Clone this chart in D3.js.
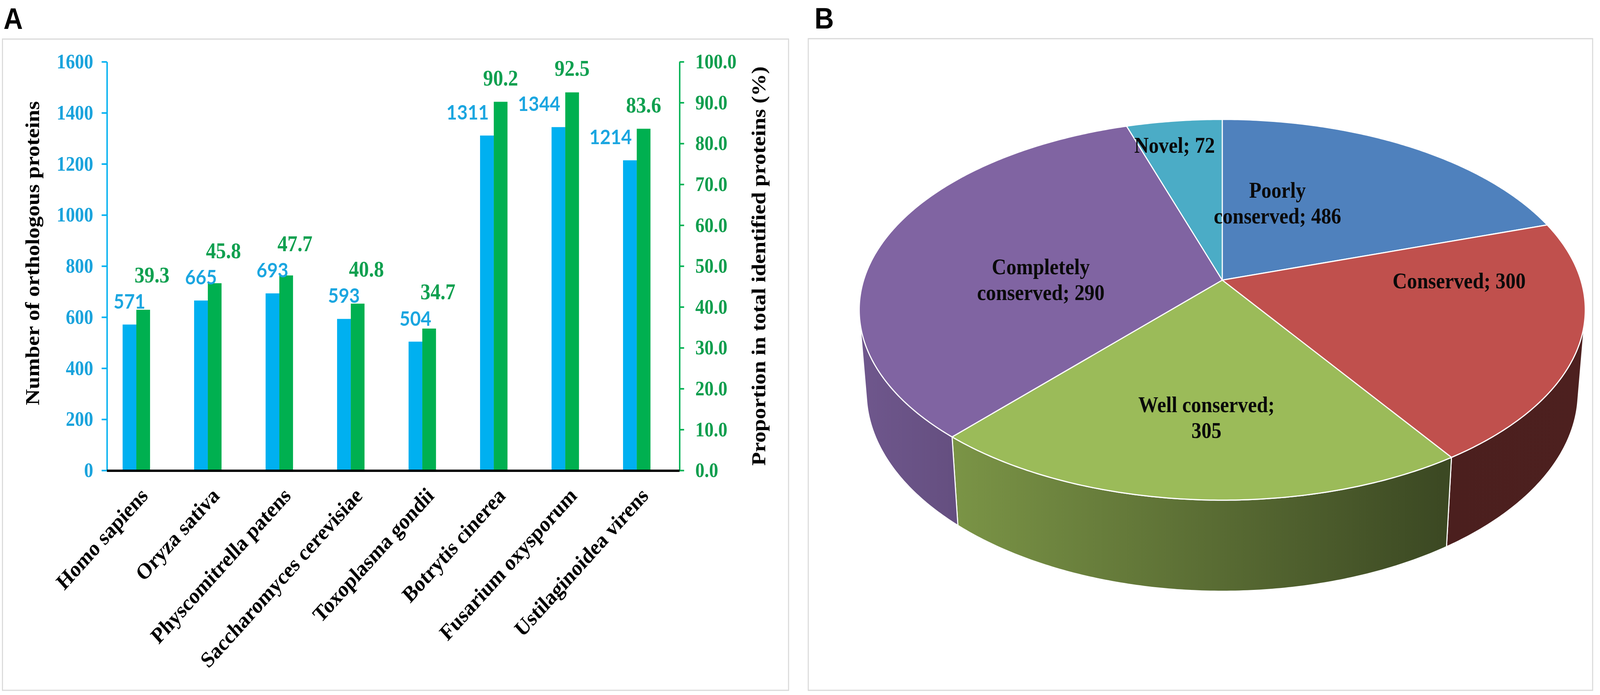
<!DOCTYPE html>
<html>
<head>
<meta charset="utf-8">
<script src="https://cdn.jsdelivr.net/npm/d3@7"></script>
<style>
  html, body { margin: 0; padding: 0; background: #fff; overflow: hidden; }
  svg { display: block; }
</style>
</head>
<body>
<div class="canvas"></div>
<script>
// ---- panel A data ----
const species = ['Homo sapiens', 'Oryza sativa', 'Physcomitrella patens', 'Saccharomyces cerevisiae',
    'Toxoplasma gondii', 'Botrytis cinerea', 'Fusarium oxysporum', 'Ustilaginoidea virens'];
const orthologCounts = [571, 665, 693, 593, 504, 1311, 1344, 1214];
const orthologPercents = [39.3, 45.8, 47.7, 40.8, 34.7, 90.2, 92.5, 83.6];
const countTicks = [0, 200, 400, 600, 800, 1000, 1200, 1400, 1600];
const percentTicks = [0, 10, 20, 30, 40, 50, 60, 70, 80, 90, 100];

// ---- panel B data ----
const pieCategories = ['Poorly conserved', 'Conserved', 'Well conserved', 'Completely conserved', 'Novel'];
// numbers printed in the slice labels
const pieCounts = [486, 300, 305, 290, 72];
// slice sizes as they are drawn in the figure (first and fourth are swapped vs. the printed labels)
const pieSliceCounts = [290, 300, 305, 486, 72];
const pieColors = ['#4f81bd', '#c0504d', '#9bbb59', '#8064a2', '#4bacc6'];

const serif = '"Liberation Serif", "Times New Roman", serif';
const blue = '#00b0f0', green = '#00b050';
const W = 4549, H = 1779;

// drawn in a 4549x1779 frame, stretched onto whatever the viewport really is
const svg = d3.select('.canvas')
    .append('svg')
    .attr('viewBox', `0 0 ${W} ${H}`)
    .attr('preserveAspectRatio', 'none')
    .style('width', '100vw')
    .style('height', '100vh');

// panel frames + letters
svg.append('rect').attr('x', 7).attr('y', 100).attr('width', 2235).attr('height', 1667)
    .attr('fill', 'none').attr('stroke', '#d9d9d9').attr('stroke-width', 3);
svg.append('rect').attr('x', 2298).attr('y', 99).attr('width', 2230).attr('height', 1668)
    .attr('fill', 'none').attr('stroke', '#d9d9d9').attr('stroke-width', 3);

svg.selectAll('text.panel')
    .data([['A', 10, 74], ['B', 2316, 73]])
    .enter().append('text')
    .attr('class', 'panel')
    .attr('x', d => d[1]).attr('y', d => d[2])
    .attr('font-family', '"Liberation Sans", Arial, sans-serif')
    .attr('font-weight', 'bold')
    .attr('font-size', 76)
    .text(d => d[0]);

// ================= panel A : bars =================
const rows = species.map((s, i) => ({ name: s, count: orthologCounts[i], pct: orthologPercents[i] }));

const x = d3.scalePoint().domain(species).range([286, 1912]).padding(0.5);
const sub = d3.scaleBand().domain(['count', 'pct']).range([-39, 39]);
const yCount = d3.scaleLinear().domain([0, 1600]).range([1204, 158]);
const yPct = d3.scaleLinear().domain([0, 100]).range([1204, 158]);

const graph = svg.append('g');

graph.selectAll('rect.count')
    .data(rows)
    .enter().append('rect')
    .attr('class', 'count')
    .attr('x', d => x(d.name) + sub('count'))
    .attr('y', d => yCount(d.count))
    .attr('width', sub.bandwidth())
    .attr('height', d => yCount(0) - yCount(d.count))
    .attr('fill', blue);

graph.selectAll('rect.pct')
    .data(rows)
    .enter().append('rect')
    .attr('class', 'pct')
    .attr('x', d => x(d.name) + sub('pct'))
    .attr('y', d => yPct(d.pct))
    .attr('width', sub.bandwidth())
    .attr('height', d => yPct(0) - yPct(d.pct))
    .attr('fill', green);

// value labels: centred over the blue bar, pushed left when the green bar would run into it
const countLabels = graph.selectAll('text.countLabel')
    .data(rows)
    .enter().append('text')
    .attr('class', 'countLabel')
    .attr('y', d => yCount(d.count) - 41)
    .attr('text-anchor', 'middle')
    .attr('font-family', 'Lato, "Open Sans", sans-serif')
    .attr('font-weight', 'bold')
    .attr('font-size', 52)
    .attr('fill', '#1ba6e0')
    .text(d => d.count)
    .attr('x', function (d) {
        const cx = x(d.name) + sub('count') + sub.bandwidth() / 2;
        const half = this.getComputedTextLength() / 2;
        const greenLeft = x(d.name) + sub('pct');
        if (yPct(d.pct) < yCount(d.count) - 61 && cx + half > greenLeft - 14) {
            return greenLeft - 14 - half;
        }
        return cx;
    });
const countNodes = countLabels.nodes();

// percent labels sit over the green bar; lifted (and nudged right) above the blue label when they'd collide
graph.selectAll('text.pctLabel')
    .data(rows)
    .enter().append('text')
    .attr('class', 'pctLabel')
    .attr('x', d => x(d.name) + sub('pct') + sub.bandwidth() / 2)
    .attr('y', d => yPct(d.pct) - 42)
    .attr('text-anchor', 'middle')
    .attr('font-family', serif)
    .attr('font-weight', 'bold')
    .attr('font-size', 57)
    .attr('fill', '#10a050')
    .text(d => d3.format('.1f')(d.pct))
    .each(function (d, i) {
        const me = d3.select(this);
        const b = countNodes[i].getBBox();
        const box = this.getBBox();
        const hit = box.x < b.x + b.width && box.x + box.width > b.x &&
            box.y < b.y + b.height && box.y + box.height > b.y;
        if (hit) {
            const descent = box.y + box.height - +me.attr('y');
            me.attr('x', +me.attr('x') + 25)
                .attr('y', b.y - 3 - descent);
        }
    });

// axes
const leftAxis = d3.axisLeft(yCount).tickValues(countTicks).tickFormat(d3.format('d'))
    .tickSize(15).tickSizeOuter(0).tickPadding(24);
const leftG = svg.append('g').attr('transform', 'translate(304,0)').call(leftAxis);
leftG.attr('font-family', serif).attr('font-size', 52).attr('font-weight', 'bold');
leftG.selectAll('path, line').attr('stroke', blue).attr('stroke-width', 4);
leftG.selectAll('text').attr('fill', '#1aa3dc');

const rightAxis = d3.axisRight(yPct).tickValues(percentTicks).tickFormat(d3.format('.1f'))
    .tickSize(13).tickSizeOuter(0).tickPadding(32);
const rightG = svg.append('g').attr('transform', 'translate(1932,0)').call(rightAxis);
rightG.attr('font-family', serif).attr('font-size', 52).attr('font-weight', 'bold');
rightG.selectAll('path, line').attr('stroke', green).attr('stroke-width', 4);
rightG.selectAll('text').attr('fill', '#0f9e4e');

// category axis
svg.append('line')
    .attr('x1', 304).attr('x2', 1932)
    .attr('y1', yCount(0) + 1).attr('y2', yCount(0) + 1)
    .attr('stroke', '#000').attr('stroke-width', 6);

svg.selectAll('text.species')
    .data(species)
    .enter().append('text')
    .attr('class', 'species')
    .attr('transform', d => `translate(${x(d) + 36}, 1272) rotate(-45)`)
    .attr('text-anchor', 'end')
    .attr('font-family', serif)
    .attr('font-weight', 'bold')
    .attr('font-size', 57)
    .text(d => d);

// axis titles
svg.append('text')
    .attr('transform', 'translate(92, 648) rotate(-90)')
    .attr('text-anchor', 'middle')
    .attr('dominant-baseline', 'central')
    .attr('font-family', serif).attr('font-weight', 'bold').attr('font-size', 57)
    .text('Number of orthologous proteins');

svg.append('text')
    .attr('transform', 'translate(2157, 681) rotate(-90)')
    .attr('text-anchor', 'middle')
    .attr('dominant-baseline', 'central')
    .attr('font-family', serif).attr('font-weight', 'bold').attr('font-size', 57)
    .text('Proportion in total identified proteins (%)');

// ================= panel B : 3D pie =================
// perspective camera fitted to the figure
const pieCx = 3475, pieCy = 717;
const camF = 5786, camD = 5.676, camTilt = 27.8 * Math.PI / 180, pieDepth = 0.2355;
const sinT = Math.sin(camTilt), cosT = Math.cos(camTilt);

// theta: clockwise from the far point, r: radius fraction, lift: 0 = top face, -pieDepth = bottom
function project(theta, r, lift) {
    const depth = camD + r * Math.cos(theta) * cosT - lift * sinT;
    const up = r * Math.cos(theta) * sinT + lift * cosT;
    return [pieCx + camF * r * Math.sin(theta) / depth, pieCy - camF * up / depth];
}
function rim(a, b, lift) {
    const n = Math.max(2, Math.ceil((b - a) / 0.01));
    return d3.range(n + 1).map(i => project(a + (b - a) * i / n, 1, lift));
}
function shade(col, f) {
    const c = d3.rgb(col);
    return d3.rgb(c.r * f, c.g * f, c.b * f).formatHex();
}

const arcs = d3.pie().sort(null).value(d => d)(pieSliceCounts);
const visFrom = Math.acos(-1 / (camD * cosT));
const visTo = 2 * Math.PI - visFrom;
const line = d3.line();

const pie = svg.append('g');
const defs = svg.append('defs');

// side shading: lighter on the left, darker to the right
arcs.forEach((a, i) => {
    const grad = defs.append('linearGradient')
        .attr('id', 'side' + i)
        .attr('gradientUnits', 'userSpaceOnUse')
        .attr('x1', 2440).attr('x2', 4510).attr('y1', 0).attr('y2', 0);
    [[0, 0.87], [0.8, 0.39], [1, 0.40]].forEach(s => {
        grad.append('stop').attr('offset', s[0]).attr('stop-color', shade(pieColors[i], s[1]));
    });
});

arcs.forEach((a, i) => {
    const from = Math.max(a.startAngle, visFrom);
    const to = Math.min(a.endAngle, visTo);
    if (from >= to) return;
    const pts = rim(from, to, 0).concat(rim(from, to, -pieDepth).reverse());
    pie.append('path')
        .attr('d', line(pts) + 'Z')
        .attr('fill', `url(#side${i})`)
        .attr('stroke', '#fff').attr('stroke-width', 3).attr('stroke-linejoin', 'round');
});

pie.selectAll('path.top')
    .data(arcs)
    .enter().append('path')
    .attr('class', 'top')
    .attr('d', d => line([[pieCx, pieCy]].concat(rim(d.startAngle, d.endAngle, 0))) + 'Z')
    .attr('fill', (d, i) => pieColors[i])
    .attr('stroke', '#fff').attr('stroke-width', 3).attr('stroke-linejoin', 'round');

// label spots in pie coordinates (angle in degrees, radius fraction)
const labelSpots = [[20.5, 0.47], [90.5, 0.66], [183.4, 0.666], [270, 0.506], [349.6, 0.83]];
const pieFont = 57, lineGap = 66, wrapWidth = 420;

pieCategories.forEach((cat, i) => {
    const p = project(labelSpots[i][0] * Math.PI / 180, labelSpots[i][1], 0);
    const t = pie.append('text')
        .attr('text-anchor', 'middle')
        .attr('font-family', serif).attr('font-weight', 'bold').attr('font-size', pieFont)
        .attr('fill', '#0a0a0a');
    // greedy wrap of "category; count"
    const words = `${cat}; ${pieCounts[i]}`.split(' ');
    const lines = [];
    let cur = [];
    const probe = t.append('tspan');
    words.forEach(w => {
        probe.text(cur.concat(w).join(' '));
        if (cur.length && probe.node().getComputedTextLength() > wrapWidth) {
            lines.push(cur.join(' '));
            cur = [w];
        } else {
            cur.push(w);
        }
    });
    lines.push(cur.join(' '));
    probe.remove();
    lines.forEach((ln, k) => {
        t.append('tspan')
            .attr('x', p[0])
            .attr('y', p[1] + 18 + (k - (lines.length - 1) / 2) * lineGap)
            .text(ln);
    });
});
</script>
</body>
</html>
